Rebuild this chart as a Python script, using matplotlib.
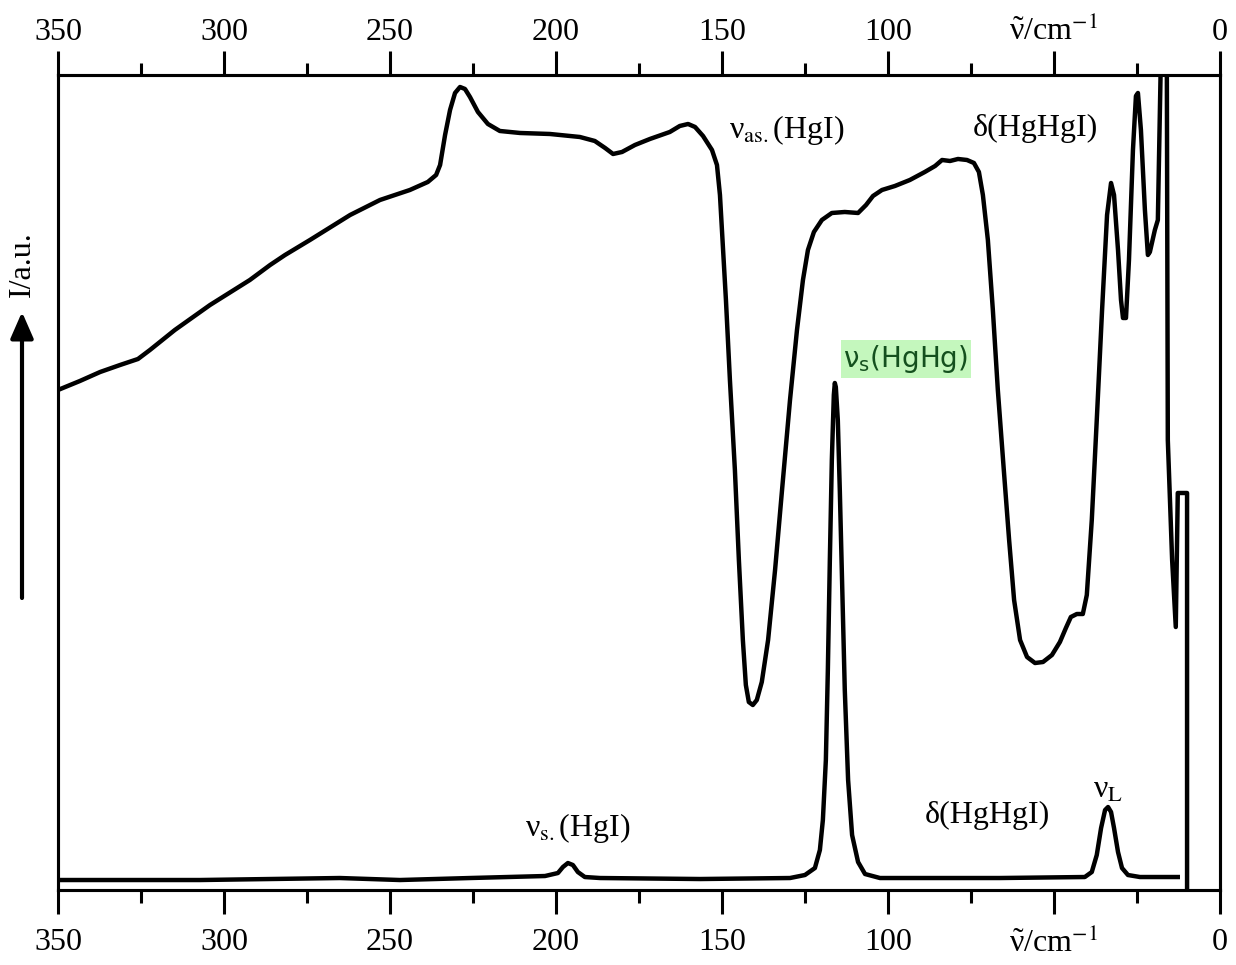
import numpy as np
import matplotlib
matplotlib.use("Agg")
import matplotlib.pyplot as plt
from matplotlib.patches import FancyArrowPatch

plt.rcParams['font.family'] = ['Liberation Serif', 'DejaVu Serif']
plt.rcParams['mathtext.fontset'] = 'stix'

# IR trace (wavenumber in cm-1, intensity in a.u.)
ir_wn = [350.0, 343.4, 337.3, 331.3, 325.9, 322.3, 314.8, 304.2, 292.2, 286.1,
         281.6, 274.1, 262.0, 253.0, 244.0, 238.6, 236.1, 234.9, 233.4, 231.9,
         230.4, 228.9, 227.4, 225.9, 223.5, 220.5, 216.9, 210.8, 201.8, 192.8,
         188.3, 185.2, 182.8, 180.1, 176.2, 171.7, 165.7, 162.7, 160.2, 158.1,
         155.7, 153.0, 151.5, 150.6, 150.0, 148.8, 147.6, 146.1, 144.9, 143.7,
         142.8, 141.9, 140.7, 139.5, 138.0, 136.1, 134.0, 131.9, 129.5, 127.4,
         125.6, 124.1, 122.3, 119.9, 116.9, 113.0, 109.0, 106.6, 104.5, 101.8,
         97.9, 93.4, 88.9, 85.8, 83.7, 81.3, 78.9, 76.2, 74.1, 72.6,
         71.4, 69.9, 68.4, 66.9, 65.1, 63.5, 62.0, 60.2, 58.1, 55.7,
         53.3, 50.6, 48.2, 46.4, 44.9, 43.1, 41.3, 40.1, 38.6, 37.1,
         35.5, 34.0, 32.8, 31.9, 30.7, 29.8, 29.2, 28.3, 27.4, 26.2,
         25.3, 24.7, 23.8, 22.6, 21.7, 21.1, 19.6, 18.7, 17.8, 16.0,
         15.7, 14.4, 13.3, 12.7, 9.9, 9.9]
ir_int = [500, 509, 518, 525, 531, 540, 560, 585, 610, 625,
          635, 650, 675, 690, 700, 708, 715, 725, 755, 780,
          797, 803, 801, 793, 778, 766, 759, 757, 756, 753,
          749, 742, 736, 738, 745, 751, 758, 764, 766, 763,
          754, 740, 725, 695, 660, 590, 510, 420, 330, 250,
          205, 188, 185, 190, 208, 250, 320, 400, 490, 560,
          610, 640, 658, 670, 677, 678, 677, 685, 694, 700,
          704, 710, 718, 724, 730, 729, 731, 730, 727, 718,
          695, 650, 580, 500, 420, 350, 290, 250, 233, 227,
          228, 235, 248, 262, 273, 276, 276, 295, 370, 470,
          580, 675, 707, 695, 640, 590, 572, 572, 630, 740,
          794, 797, 760, 680, 635, 638, 660, 670, 830, 830,
          450, 330, 263, 397, 397, 0]

# Raman trace
ra_wn = [350.0, 307.2, 265.1, 247.0, 225.9, 203.3, 199.4, 197.9, 196.4, 194.9,
         193.4, 191.3, 186.7, 156.6, 129.5, 125.0, 122.0, 120.5, 119.6, 118.7,
         118.1, 117.5, 116.9, 116.3, 116.0, 115.7, 115.1, 114.5, 113.9, 113.0,
         112.0, 110.8, 109.0, 106.9, 102.4, 66.3, 40.7, 38.6, 37.1, 35.8,
         34.6, 33.7, 32.8, 31.9, 30.7, 29.5, 27.7, 24.1, 12.7]
ra_int = [10, 10, 12, 10, 12, 14, 17, 23, 27, 25,
          18, 13, 12, 11, 12, 15, 22, 40, 70, 130,
          220, 330, 430, 495, 507, 503, 470, 400, 320, 200,
          110, 55, 28, 16, 12, 12, 13, 18, 35, 62,
          80, 83, 78, 62, 38, 22, 15, 13, 13]

ticks_major = [350, 300, 250, 200, 150, 100, 50, 0]
tick_labels = ['350', '300', '250', '200', '150', '100',
               r'$\mathregular{\tilde{ν}}$/cm$^{-1}$', '0']

fig = plt.figure(figsize=(12.36, 9.65), dpi=100)
ax = fig.add_axes([0.0469, 0.0777, 0.9401, 0.8446])

ax.plot(ir_wn, ir_int, color='black', lw=3.2, solid_joinstyle='round')
ax.plot(ra_wn, ra_int, color='black', lw=3.2, solid_joinstyle='round')

ax.set_xlim(350, 0)
ax.set_ylim(0, 815)
ax.set_yticks([])

ax2 = ax.twiny()
ax2.set_xlim(350, 0)

for a in (ax, ax2):
    for s in a.spines.values():
        s.set_linewidth(2.2)
    a.set_xticks(ticks_major)
    a.set_xticks(np.arange(25, 350, 50), minor=True)
    a.set_xticklabels(tick_labels)
    a.tick_params(axis='x', which='both', direction='out', width=2.2, labelsize=23)
    a.tick_params(axis='x', which='major', length=17)
    a.tick_params(axis='x', which='minor', length=9)
ax.tick_params(axis='x', which='major', pad=10)
ax2.tick_params(axis='x', which='major', pad=3)

fs = 23
ax.text(130.4, 760, r'ν$_{\mathrm{as.}}$(HgI)', fontsize=fs, ha='center', va='center')
ax.text(55.7, 762, 'δ(HgHgI)', fontsize=fs, ha='center', va='center')
ax.text(193.4, 62, r'ν$_{\mathrm{s.}}$(HgI)', fontsize=fs, ha='center', va='center')
ax.text(70.2, 75, 'δ(HgHgI)', fontsize=fs, ha='center', va='center')
ax.text(33.7, 100, r'ν$_{\mathrm{L}}$', fontsize=fs, ha='center', va='center')
ax.text(94.6, 531, r'ν$_{\mathrm{s}}$(HgHg)', fontsize=20, ha='center', va='center',
        family='DejaVu Sans', math_fontfamily='dejavusans', color='#14501e',
        bbox=dict(boxstyle='square,pad=0.1', facecolor='#c4f7bd', edgecolor='none'))

# y label with arrow
fig.text(22 / 1236, 1 - 264 / 965, 'I/a.u.', rotation=90, fontsize=fs,
         ha='center', va='center')
fig.add_artist(FancyArrowPatch(
    (22 / 1236, 1 - 598 / 965), (22 / 1236, 1 - 312 / 965),
    transform=fig.transFigure, arrowstyle='-|>,head_length=0.8,head_width=0.35',
    mutation_scale=20, lw=3, color='black', shrinkA=0, shrinkB=0))

fig.savefig('out.png', dpi=100)
